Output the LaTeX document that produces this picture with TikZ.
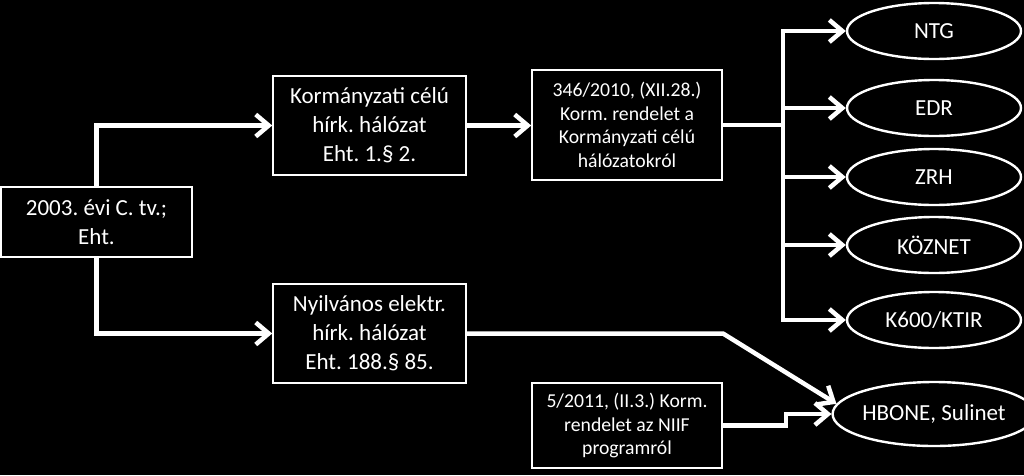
\documentclass[tikz,border=0pt]{standalone}
\usepackage{fontspec}
\setmainfont{Carlito}
\usetikzlibrary{shapes.geometric,arrows.meta}
\frenchspacing
\begin{document}
\begin{tikzpicture}[x=1pt,y=-1pt,
  box/.style={draw=white,line width=1.6pt,fill=black,text=white,align=center,inner sep=0pt},
  big/.style={font=\fontsize{23pt}{29pt}\selectfont},
  small/.style={font=\fontsize{19.7pt}{23.5pt}\selectfont},
  oval/.style={ellipse,draw=white,line width=2.4pt,fill=black,text=white,inner sep=0pt,
    minimum width=174pt,minimum height=56pt,font=\fontsize{23pt}{28pt}\selectfont},
  conn/.style={draw=white,line width=4.5pt},
  arr/.style={conn,-{Straight Barb[length=13pt,width=22pt,line width=4.5pt]}}]
\fill[black] (0,0) rectangle (1024,475);
\useasboundingbox (0,0) rectangle (1024,475);
\node[box,big,minimum width=191pt,minimum height=70pt] (A) at (96.5,222) {2003. évi C. tv.;\\Eht.};
\node[box,big,minimum width=193pt,minimum height=99pt] (B) at (369.5,125.5) {Kormányzati célú\\hírk. hálózat\\Eht. 1.§ 2.};
\node[box,big,minimum width=193pt,minimum height=99pt] (C) at (369.5,333.5) {Nyilvános elektr.\\hírk. hálózat\\Eht. 188.§ 85.};
\node[box,small,minimum width=190pt,minimum height=110pt] (D) at (627,125) {346/2010, (XII.28.)\\Korm. rendelet a\\Kormányzati célú\\hálózatokról};
\node[box,small,minimum width=190pt,minimum height=85pt] (E) at (627,425.5) {5/2011, (II.3.) Korm.\\rendelet az NIIF\\programról};
\node[oval] (NTG) at (934,31) {NTG};
\node[oval] (EDR) at (934,108) {EDR};
\node[oval] (ZRH) at (934,177) {ZRH};
\node[oval] (KOZ) at (934,245) {KÖZNET};
\node[oval] (K600) at (934,320) {K600/KTIR};
\node[oval,minimum width=177pt,minimum height=64pt] (HB) at (934,414) {HBONE, Sulinet};
\coordinate (bus) at (783,125);
\coordinate (bend) at (723,333.5);
\draw[arr] (A.north) |- (B.west);
\draw[arr] (A.south) |- (C.west);
\draw[arr] (B.east) -- (B.east -| D.west);
\draw[conn] (D.east) -- (bus);
\draw[arr] (bus) |- (NTG.west);
\draw[arr] (bus) |- (EDR.west);
\draw[arr] (bus) |- (ZRH.west);
\draw[arr] (bus) |- (KOZ.west);
\draw[arr] (bus) |- (K600.west);
\draw[arr,line join=bevel] (C.east) -- (bend) -- (HB.174);
\draw[arr] (E.east) -- ++(63,0) |- (HB.west);
\end{tikzpicture}
\end{document}
